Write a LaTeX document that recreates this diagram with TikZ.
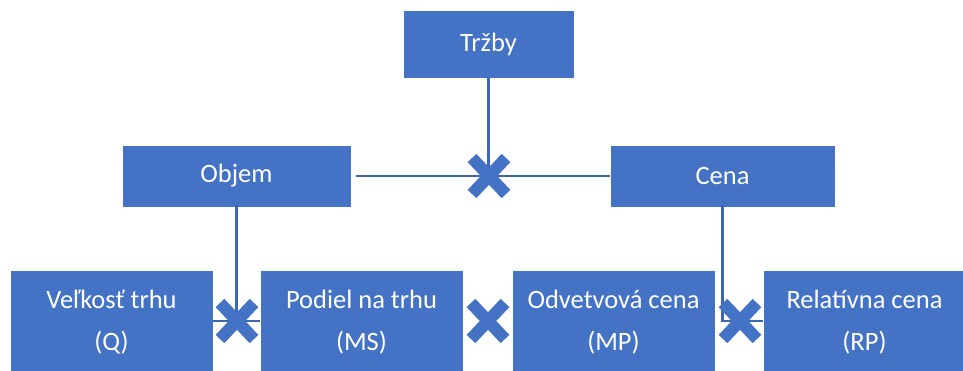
\documentclass[tikz,border=0pt]{standalone}
\usepackage{fontspec}
\setmainfont{Carlito}
\definecolor{boxblue}{HTML}{4472C4}
\definecolor{wireblue}{HTML}{3D67B5}
\tikzset{
  x=1pt, y=-1pt,
  box/.style={fill=boxblue, draw=white, line width=0.6pt, text=white, inner sep=0pt,
    align=center, font=\fontsize{26.5}{42}\selectfont},
  wire/.style={draw=wireblue, line width=2.4pt},
  crossarm/.style={draw=boxblue, line width=12pt, line cap=butt},
  times/.pic={\draw[crossarm] (-17,-18) -- (17,18) (-17,18) -- (17,-18);}
}
\begin{document}
\begin{tikzpicture}
\useasboundingbox (0,0) rectangle (963,371);
\clip (0,0) rectangle (963,371);
% top level
\node[box, minimum width=171pt, minimum height=68pt] (trzby) at (488.5,44) {Tržby};
% second level
\node[box, minimum width=229pt, minimum height=62pt] (objem) at (236.5,176) {Objem};
\node[box, minimum width=225pt, minimum height=62pt] (cena) at (722.5,176) {Cena};
% third level
\node[box, minimum width=203pt, minimum height=104pt] (q)  at (111.5,322) {Veľkosť trhu\\(Q)};
\node[box, minimum width=203pt, minimum height=104pt] (ms) at (361.5,322) {Podiel na trhu\\(MS)};
\node[box, minimum width=203pt, minimum height=104pt] (mp) at (613.5,322) {Odvetvová cena\\(MP)};
\node[box, minimum width=203pt, minimum height=104pt] (rp) at (864.5,322) {Relatívna cena\\(RP)};
% product marks
\coordinate (m0) at (489,176);
\coordinate (m1) at (237,321);
\coordinate (m2) at (488,321);
\coordinate (m3) at (740,321);
% connectors
\draw[wire] ([xshift=5pt]objem.east) -- (cena.west);
\draw[wire] (trzby.south) -- (trzby.south |- m0);
\draw[wire] ([yshift=2pt]objem.south) -- (objem.south |- m1);
\draw[wire] (q.east |- m1) -- (ms.west |- m1);
\draw[wire] ([yshift=2pt]cena.south) -- (cena.south |- m3) -- (rp.west |- m3);
% marks on top
\pic at (m0) {times};
\pic at (m1) {times};
\pic at (m2) {times};
\pic at (m3) {times};
\end{tikzpicture}
\end{document}
